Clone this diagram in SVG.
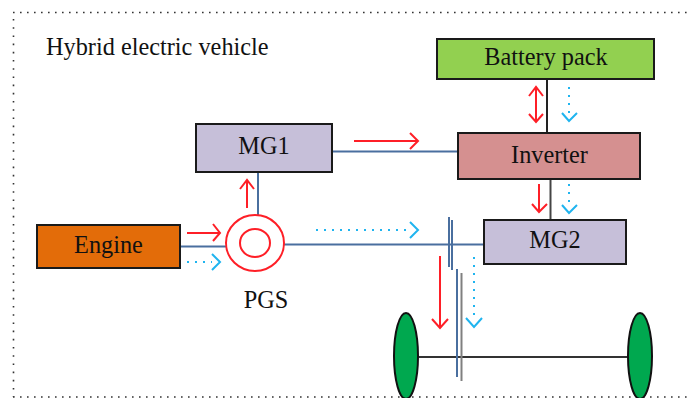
<svg xmlns="http://www.w3.org/2000/svg" width="689" height="398" viewBox="0 0 689 398">
<style>
.n{stroke:#1a1a1a;stroke-width:2}
.t{font-family:"Liberation Serif",serif;font-size:24.300px;fill:#111;text-anchor:middle}
.b{stroke:#4a6f9f;stroke-width:2;fill:none}
.k{stroke:#222;stroke-width:2;fill:none}
.r{stroke:#fe1f27;stroke-width:2;fill:none}
.c{stroke:#1fb4ef;stroke-width:2;fill:none}
.d{stroke-dasharray:2 6}
.border{fill:none;stroke:#333;stroke-width:1.600}
</style>
<path class="border" stroke-dasharray="1.600 5.400" d="M13 12.500H689M13 397H689"/>
<path class="border" stroke-dasharray="1.600 6.600" d="M13.500 19V397"/>
<text x="46" y="55" class="t" style="text-anchor:start">Hybrid electric vehicle</text>
<g id="connectors">
<path class="b" d="M180 246.500H226M284 244.500H484M258 172V215M332 151.500H458"/>
<path class="k" d="M547 79V133"/>
<path class="k" style="stroke:#444" d="M550.500 179V220"/>
<path class="k" style="stroke:#333" d="M419 357H628"/>
<path class="b" d="M449 217V267M452 220V270M457 269V377"/>
<path stroke="#808080" stroke-width="2" fill="none" d="M461.500 273V381"/>
<path class="r" d="M187 233H220M213 224L220 233L213 241"/>
<path class="c d" d="M187 262H212"/>
<path class="c" d="M212 254L220 262L212 270"/>
<path class="r" d="M247 208V180M240 189L247 180L254 189"/>
<path class="r" d="M354 141H418M410 133L418 141L410 149"/>
<path class="r" d="M536 88V122M529 96L536 87L543 96M529 114L536 122L543 114"/>
<path class="c d" d="M569 87V113"/>
<path class="c" d="M562 113L569 121L577 113"/>
<path class="r" d="M539 184V212M532 204L539 212L547 204"/>
<path class="c d" d="M569 184V205"/>
<path class="c" d="M562 205L569 213L577 205"/>
<path class="c d" d="M316 230H410"/>
<path class="c" d="M410 222L418 230L410 238"/>
<path class="r" d="M440 256V327M432 319L440 328L448 319"/>
<path class="c d" d="M474 257V315"/>
<path class="c" d="M466 318L474 327L482 318"/>
</g>
<g id="battery"><rect class="n" x="437" y="39" width="217" height="40" fill="#92d050"/><text class="t" x="546" y="65">Battery pack</text></g>
<g id="mg1"><rect class="n" x="196" y="124" width="136" height="48" fill="#c6bfd9"/><text class="t" x="264" y="154">MG1</text></g>
<g id="inverter"><rect class="n" x="458" y="133" width="182" height="46" fill="#d59090"/><text class="t" x="549.500" y="163">Inverter</text></g>
<g id="mg2"><rect class="n" x="484" y="220" width="142" height="44" fill="#c6bfd9"/><text class="t" x="555" y="248">MG2</text></g>
<g id="engine"><rect class="n" x="37" y="225" width="143" height="43" fill="#e36c09"/><text class="t" x="108.500" y="253">Engine</text></g>
<g id="pgs"><ellipse cx="255" cy="243" rx="29" ry="28" fill="#fff" stroke="#fe1f27" stroke-width="2"/><ellipse cx="255" cy="243" rx="15" ry="14" fill="#fff" stroke="#fe1f27" stroke-width="2"/><text class="t" x="266" y="308">PGS</text></g>
<g id="wheel-left"><ellipse cx="406" cy="356" rx="12" ry="43" fill="#00a84f" stroke="#111" stroke-width="2"/></g>
<g id="wheel-right"><ellipse cx="640" cy="356" rx="12" ry="43" fill="#00a84f" stroke="#111" stroke-width="2"/></g>
</svg>
